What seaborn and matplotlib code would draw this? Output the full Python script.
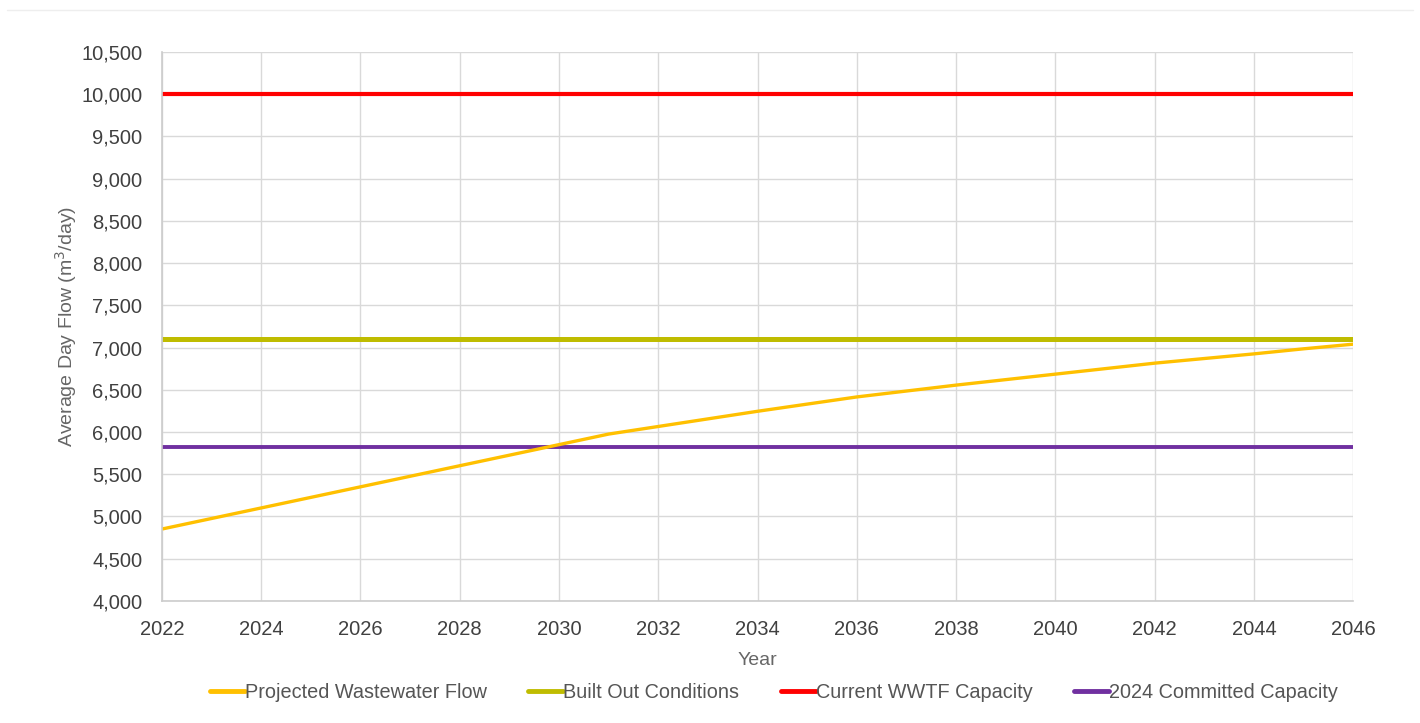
import pandas as pd
import matplotlib.pyplot as plt
import seaborn as sns
from matplotlib.ticker import FuncFormatter
from matplotlib.lines import Line2D

# Data
years = list(range(2022, 2047))
projected_flow = [4850, 4975, 5100, 5225, 5350, 5475, 5600, 5725, 5850, 5975,
                  6065, 6155, 6245, 6330, 6415, 6485, 6555, 6620, 6685, 6750,
                  6815, 6870, 6925, 6985, 7040]
built_out = [7100] * len(years)
current_capacity = [10000] * len(years)
committed_capacity = [5820] * len(years)

series_names = ['Projected Wastewater Flow', 'Built Out Conditions',
                'Current WWTF Capacity', '2024 Committed Capacity']
series_colors = ['#FFC000', '#BFBC00', '#FF0000', '#7030A0']
series_widths = [2.4, 3.6, 3.0, 2.8]

df = pd.DataFrame({
    'Year': years * 4,
    'Flow': projected_flow + built_out + current_capacity + committed_capacity,
    'Series': ([series_names[0]] * len(years) + [series_names[1]] * len(years)
               + [series_names[2]] * len(years) + [series_names[3]] * len(years)),
})

sns.set_style('white')
plt.rcParams['font.family'] = ['Liberation Sans', 'DejaVu Sans']

fig = plt.figure(figsize=(14.2, 7.23), dpi=100)
ax = fig.add_axes([0.114, 0.169, 0.839, 0.759])

# draw in reverse so the projected flow sits on top
for name, col, lw in reversed(list(zip(series_names, series_colors, series_widths))):
    sns.lineplot(data=df[df['Series'] == name], x='Year', y='Flow', color=col,
                 linewidth=lw, ax=ax, legend=False, solid_capstyle='butt')

ax.set_xlim(2022, 2046)
ax.set_ylim(4000, 10500)
ax.set_xticks(range(2022, 2047, 2))
ax.set_yticks(range(4000, 10501, 500))
ax.yaxis.set_major_formatter(FuncFormatter(lambda v, p: f'{int(v):,}'))
ax.grid(True, color='#d9d9d9', linewidth=1)
ax.tick_params(axis='both', length=0, labelsize=14.5, colors='#404040')
ax.tick_params(axis='y', pad=14)
ax.tick_params(axis='x', pad=14)
for s in ['top', 'right']:
    ax.spines[s].set_visible(False)
for s in ['left', 'bottom']:
    ax.spines[s].set_color('#cccccc')
    ax.spines[s].set_linewidth(1.2)

ax.set_xlabel('Year', fontsize=14, color='#666666', labelpad=9)
ax.set_ylabel('Average Day Flow (m$^3$/day)', fontsize=14, color='#666666', labelpad=2)

handles = [Line2D([0], [0], color=c, linewidth=3.5) for c in series_colors]
fig.legend(handles, series_names, loc='center', bbox_to_anchor=(0.545, 0.042),
           ncol=4, frameon=False, fontsize=14.3, handlelength=1.75, handletextpad=0.0,
           columnspacing=2.1, labelcolor='#555555')

# faint line at the very top of the picture
fig.add_artist(Line2D([0.005, 0.995], [0.986, 0.986], color='#eeeeee', linewidth=1,
                      transform=fig.transFigure))

fig.savefig('out.png', dpi=100)
